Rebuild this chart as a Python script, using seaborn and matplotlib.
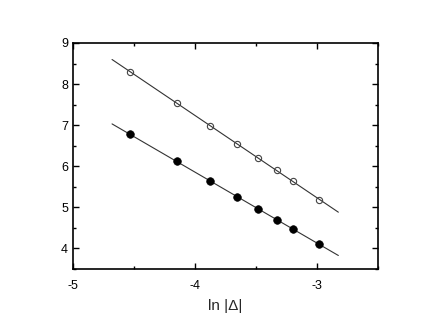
import numpy as np
import pandas as pd
import matplotlib
matplotlib.use("Agg")
import matplotlib.pyplot as plt
import seaborn as sns
from matplotlib.ticker import MultipleLocator

sns.set_theme(style="ticks")
plt.rcParams['font.family'] = ['Liberation Sans', 'DejaVu Sans']

# data
x_open = [-4.533, -4.150, -3.877, -3.658, -3.481, -3.330, -3.199, -2.981]
y_open = [8.30, 7.54, 6.99, 6.55, 6.20, 5.90, 5.63, 5.19]
x_fill = [-4.533, -4.150, -3.877, -3.658, -3.481, -3.330, -3.199, -2.981]
y_fill = [6.78, 6.12, 5.64, 5.26, 4.96, 4.70, 4.48, 4.10]
fit_range = [-4.68, -2.825]
x_ticks = [-5, -4, -3]
y_ticks = [4, 5, 6, 7, 8, 9]

fig = plt.figure(figsize=(4.36, 3.23), dpi=100)
ax = fig.add_axes([73/436, 54/323, 305/436, 226/323])

xs = np.array(fit_range)
for xd, yd in [(x_open, y_open), (x_fill, y_fill)]:
    m, b = np.polyfit(xd, yd, 1)
    ax.plot(xs, m * xs + b, color='#333333', lw=0.8, zorder=2)

df_f = pd.DataFrame({'x': x_fill, 'y': y_fill})
df_o = pd.DataFrame({'x': x_open, 'y': y_open})
sns.scatterplot(data=df_f, x='x', y='y', ax=ax, color='black', s=30,
                edgecolor='black', linewidth=0.5, zorder=3, legend=False)
ax.plot(df_o['x'], df_o['y'], ls='none', marker='o', ms=4.5, mfc='none',
        mec='#444444', mew=0.8, zorder=3)

ax.set_xlim(-5, -2.5)
ax.set_ylim(3.5, 9)
ax.set_xticks(x_ticks)
ax.set_yticks(y_ticks)
ax.set_xticklabels([str(t) for t in x_ticks])
ax.xaxis.set_minor_locator(MultipleLocator(0.5))
ax.yaxis.set_minor_locator(MultipleLocator(0.5))
ax.tick_params(which='both', direction='in', top=True, right=True,
               labelsize=9, colors='black', width=1)
ax.tick_params(which='major', length=4)
ax.tick_params(which='minor', length=2.5)
ax.tick_params(axis='x', pad=8)
for s in ax.spines.values():
    s.set_linewidth(1.2)
    s.set_color('black')
ax.set_xlabel('ln |Δ|', fontsize=11, labelpad=5)
ax.set_ylabel('')

fig.savefig('out.png', dpi=100)
